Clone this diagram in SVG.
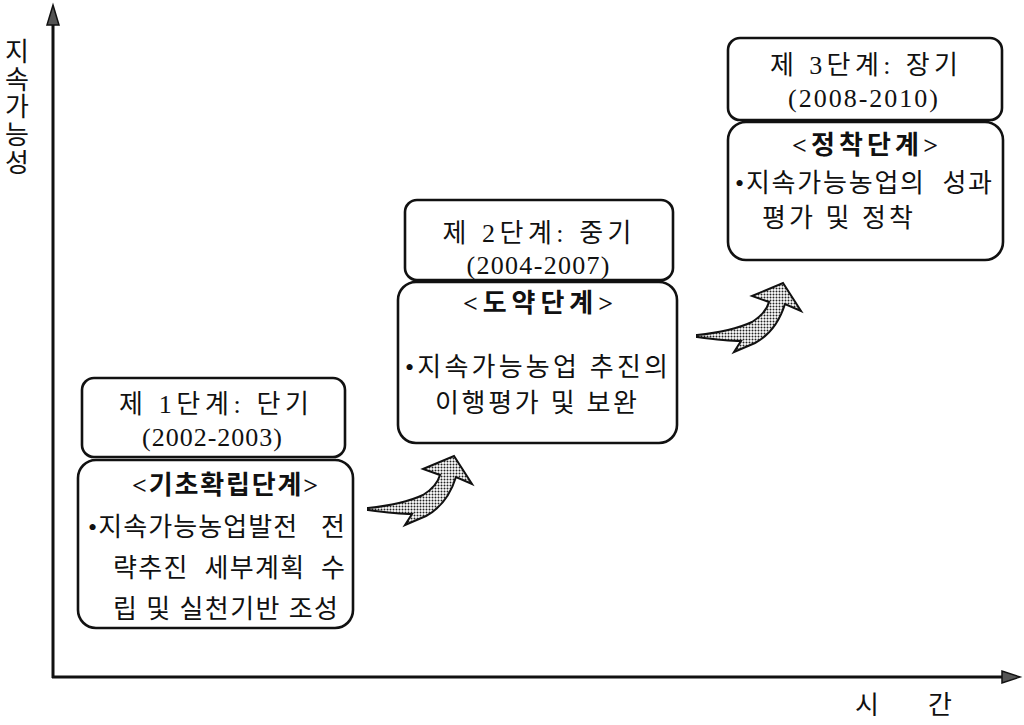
<svg xmlns="http://www.w3.org/2000/svg" width="1024" height="725" viewBox="0 0 1024 725">
<style>
.box{fill:#fff;stroke:#111;stroke-width:2.6}
.t{font-family:"Liberation Serif","Noto Sans CJK KR",serif;font-size:26px;fill:#111;dominant-baseline:central;white-space:pre}
.c{text-anchor:middle}
.b{font-weight:bold}
.ax{stroke:#111;stroke-width:3;fill:none}
.arr{fill:url(#dots);stroke:#111;stroke-width:2;stroke-linejoin:miter}
</style>
<defs>
<pattern id="dots" width="3" height="3" patternUnits="userSpaceOnUse">
<rect width="3" height="3" fill="#fff"/>
<circle cx="1.5" cy="1.5" r="1" fill="#222"/>
</pattern>
<path id="bigarrow" d="M0,0 C20,-2 40,-6 55,-13 C65,-19 70,-26 72,-33 L55,-39 L86,-52 L104,-24 L88,-31 C83,-15 73,0 58,8 L37,17 L44,6 C30,6 15,4 0,2 Z"/>
</defs>

<g id="axes">
<line class="ax" x1="53" y1="678" x2="53" y2="22"/>
<path d="M53,5 L59,25 L47,25 Z" fill="#555" stroke="#111" stroke-width="1.5"/>
<line class="ax" x1="52" y1="677" x2="1005" y2="677"/>
<path d="M1020,677 L1002,671 L1002,683 Z" fill="#555" stroke="#111" stroke-width="1.5"/>
<text class="t" x="17" y="52" text-anchor="middle">지</text>
<text class="t" x="17" y="80" text-anchor="middle">속</text>
<text class="t" x="17" y="107" text-anchor="middle">가</text>
<text class="t" x="17" y="135" text-anchor="middle">능</text>
<text class="t" x="17" y="163" text-anchor="middle">성</text>
<text class="t" x="867" y="705" text-anchor="middle">시</text>
<text class="t" x="940" y="705" text-anchor="middle">간</text>
</g>

<g id="connectors">
<use href="#bigarrow" class="arr" transform="translate(368,508)"/>
<use href="#bigarrow" class="arr" transform="translate(697,335)"/>
</g>

<g id="stage1">
<rect class="box" x="82" y="378" width="263" height="79" rx="12"/>
<text class="t c" x="214" y="404" textLength="190" lengthAdjust="spacing">제 1단계: 단기</text>
<text class="t c" x="212" y="437" textLength="140" lengthAdjust="spacing">(2002-2003)</text>
</g>
<g id="stage1-detail">
<rect class="box" x="78" y="460" width="275" height="168" rx="18"/>
<text class="t c b" x="225" y="485" textLength="186" lengthAdjust="spacing">&lt;기초확립단계&gt;</text>
<text class="t" x="88" y="527" textLength="257" lengthAdjust="spacing">•지속가능농업발전   전</text>
<text class="t" x="113" y="568" textLength="232" lengthAdjust="spacing">략추진  세부계획  수</text>
<text class="t" x="113" y="609" textLength="225" lengthAdjust="spacing">립 및 실천기반 조성</text>
</g>

<g id="stage2">
<rect class="box" x="405" y="200" width="268" height="80" rx="12"/>
<text class="t c" x="537" y="233" textLength="189" lengthAdjust="spacing">제 2단계: 중기</text>
<text class="t c" x="538" y="265" textLength="143" lengthAdjust="spacing">(2004-2007)</text>
</g>
<g id="stage2-detail">
<rect class="box" x="398" y="282" width="279" height="161" rx="18"/>
<text class="t c b" x="538" y="303" textLength="150" lengthAdjust="spacing">&lt;도약단계&gt;</text>
<text class="t" x="405" y="367" textLength="263" lengthAdjust="spacing">•지속가능농업 추진의</text>
<text class="t" x="435" y="403" textLength="202" lengthAdjust="spacing">이행평가 및 보완</text>
</g>

<g id="stage3">
<rect class="box" x="728" y="38" width="274" height="82" rx="12"/>
<text class="t c" x="864" y="65" textLength="188" lengthAdjust="spacing">제 3단계: 장기</text>
<text class="t c" x="863" y="98" textLength="150" lengthAdjust="spacing">(2008-2010)</text>
</g>
<g id="stage3-detail">
<rect class="box" x="728" y="122" width="275" height="138" rx="18"/>
<text class="t c b" x="865" y="145" textLength="146" lengthAdjust="spacing">&lt;정착단계&gt;</text>
<text class="t" x="735" y="183" textLength="257" lengthAdjust="spacing">•지속가능농업의  성과</text>
<text class="t" x="762" y="218" textLength="151" lengthAdjust="spacing">평가 및 정착</text>
</g>
</svg>
